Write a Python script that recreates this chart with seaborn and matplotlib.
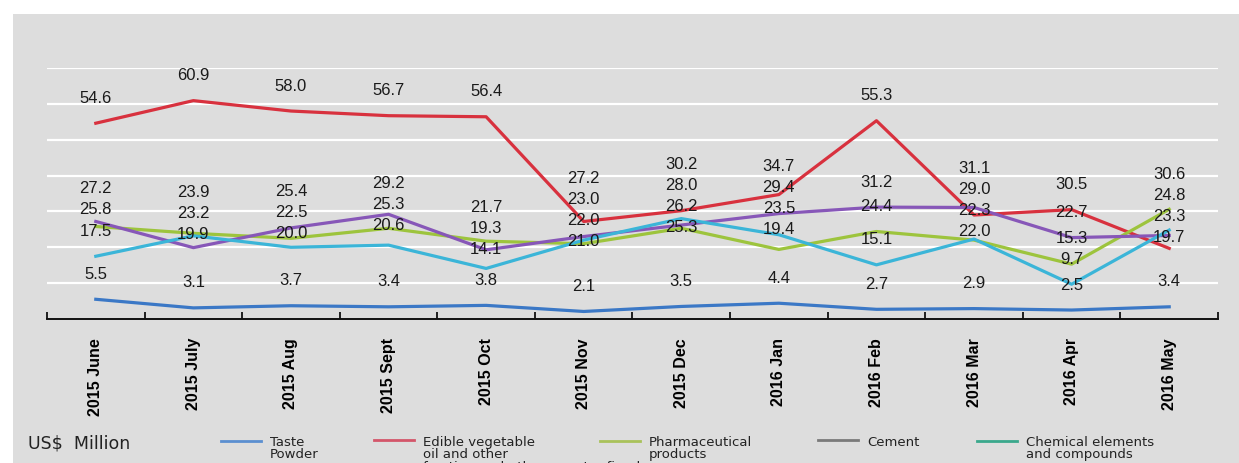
import matplotlib
matplotlib.use("Agg")
import numpy as np
import pandas as pd
import matplotlib.pyplot as plt
import seaborn as sns
from matplotlib.lines import Line2D
from matplotlib.patches import Rectangle
from matplotlib.legend_handler import HandlerLine2D

# ---------------- data ----------------
months = ["2015 June", "2015 July", "2015 Aug", "2015 Sept", "2015 Oct", "2015 Nov",
          "2015 Dec", "2016 Jan", "2016 Feb", "2016 Mar", "2016 Apr", "2016 May"]
series_names = ["Taste\nPowder",
                "Edible vegetable\noil and other\nfractions, whether or not refined",
                "Pharmaceutical\nproducts",
                "Cement",
                "Chemical elements\nand compounds"]
taste = [5.5, 3.1, 3.7, 3.4, 3.8, 2.1, 3.5, 4.4, 2.7, 2.9, 2.5, 3.4]
edible = [54.6, 60.9, 58.0, 56.7, 56.4, 27.2, 30.2, 34.7, 55.3, 29.0, 30.5, 19.7]
pharma = [25.8, 23.9, 22.5, 25.3, 21.7, 21.0, 25.3, 19.4, 24.4, 22.0, 15.3, 30.6]
cement = [27.2, 19.9, 25.4, 29.2, 19.3, 23.0, 26.2, 29.4, 31.2, 31.1, 22.7, 23.3]
chem = [17.5, 23.2, 20.0, 20.6, 14.1, 22.0, 28.0, 23.5, 15.1, 22.3, 9.7, 24.8]
unit_label = "US$  Million"

line_colors = ["#3b78c6", "#d8313e", "#9dc43d", "#8757b8", "#3bb5d8"]
legend_colors = ["#5b8fd0", "#d4566a", "#a9c25a", "#7a7a7a", "#3aa88c"]

values = [taste, edible, pharma, cement, chem]
df = pd.DataFrame({
    "x": np.tile(np.arange(len(months)), len(series_names)),
    "value": np.concatenate(values),
    "series": np.repeat(series_names, len(months)),
})

# ---------------- figure ----------------
W, H = 1239, 464
fig = plt.figure(figsize=(W / 100, H / 100), dpi=100)
plt.rcParams["font.family"] = ["Liberation Sans", "DejaVu Sans"]
fig.patch.set_facecolor("white")
fig.patches.append(Rectangle((13 / W, 0), 1, (H - 15) / H, transform=fig.transFigure,
                             facecolor="#dddddd", edgecolor="none", zorder=-10))

ax = fig.add_axes([47 / W, 144 / H, (1218 - 47) / W, (395 - 144) / H])
ax.set_facecolor("none")

sns.lineplot(data=df, x="x", y="value", hue="series", hue_order=series_names,
             palette=dict(zip(series_names, line_colors)), sort=False,
             linewidth=2.3, legend=False, ax=ax, zorder=3)

ax.set_xlim(-0.5, len(months) - 0.5)
ax.set_ylim(0, 70)
ax.set_yticks(np.arange(10, 71, 10))
ax.yaxis.grid(True, color="white", linewidth=1.6)
ax.set_axisbelow(True)
ax.tick_params(axis="y", length=0, labelleft=False)
for s in ["left", "right", "top"]:
    ax.spines[s].set_visible(False)
ax.spines["bottom"].set_color("#111111")
ax.spines["bottom"].set_linewidth(1.4)
ax.set_xlabel("")
ax.set_ylabel("")

ax.set_xticks(np.arange(len(months)))
ax.set_xticklabels(months, rotation=90, fontsize=11.5, fontweight="bold",
                   ha="center", va="top")
ax.tick_params(axis="x", which="major", length=0, pad=13)
ax.set_xticks(np.arange(-0.5, len(months), 1.0), minor=True)
ax.tick_params(axis="x", which="minor", length=5, width=1.3, direction="in",
               color="#111111")

# ---------------- data labels (stacked to avoid overlap) ----------------
OFF = 26.0   # px above point
SP = 21.0    # min spacing px


def stack_positions(g):
    c = np.mean([m[0] for m in g])
    n = len(g)
    return [c + (k - (n - 1) / 2) * SP for k in range(n)]


for i in range(len(months)):
    items = []
    for vals in values:
        v = vals[i]
        py = ax.transData.transform((i, v))[1]
        items.append((py + OFF, py, v))
    items.sort(key=lambda t: t[0])
    groups = []
    for it in items:
        groups.append([it])
        while len(groups) > 1 and stack_positions(groups[-2])[-1] + SP > stack_positions(groups[-1])[0]:
            groups[-2:] = [groups[-2] + groups[-1]]
    for g in groups:
        for m, y_lab in zip(g, stack_positions(g)):
            ax.annotate(f"{m[2]:.1f}", xy=(i, m[2]), xytext=(0, y_lab - m[1]),
                        textcoords="offset pixels", ha="center", va="center",
                        fontsize=12, color="#1a1a1a", zorder=5, annotation_clip=False)

# ---------------- legend ----------------
LEG_FS = 9.5
LEG_LS = 0.95


class TopLineHandler(HandlerLine2D):
    """Legend key aligned with the first line of a multi-line label."""

    def __init__(self, shift, **kw):
        super().__init__(**kw)
        self.shift = shift

    def create_artists(self, legend, orig_handle, xdescent, ydescent, width, height,
                       fontsize, trans):
        arts = super().create_artists(legend, orig_handle, xdescent, ydescent, width,
                                      height, fontsize, trans)
        for a in arts:
            a.set_ydata(np.asarray(a.get_ydata(), dtype=float) + self.shift)
        return arts


fig.text(28 / W, (H - 444) / H, unit_label, fontsize=12.5, va="center", ha="left",
         family=["DejaVu Sans"], color="#222222")
legend_x = [221, 374, 600, 818, 977]
for name, col, lx in zip(series_names, legend_colors, legend_x):
    h = Line2D([], [], color=col, linewidth=2.0)
    nlines = name.count("\n") + 1
    step = LEG_LS * LEG_FS * 1.17
    leg = fig.legend([h], [name], loc="upper left",
                     bbox_to_anchor=(lx / W, (H - 436) / H),
                     frameon=False, borderpad=0, borderaxespad=0, handlelength=3.0,
                     handletextpad=0.7, labelspacing=0,
                     handler_map={h: TopLineHandler((nlines - 1) / 2 * step)},
                     prop={"family": "DejaVu Sans", "size": LEG_FS})
    for t in leg.get_texts():
        t.set_linespacing(LEG_LS)
        t.set_color("#222222")

fig.savefig("out.png", dpi=100, facecolor=fig.get_facecolor())
